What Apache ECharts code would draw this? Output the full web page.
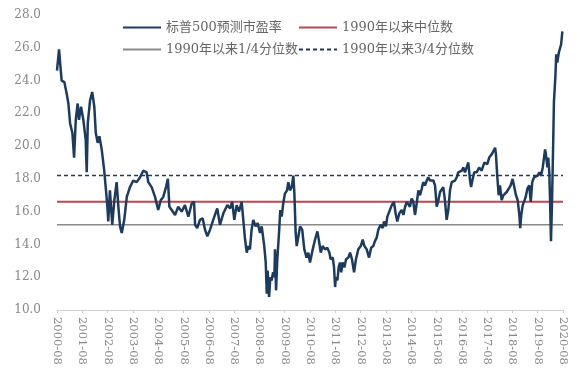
<!DOCTYPE html>
<html>
<head>
<meta charset="utf-8">
<script src="https://cdn.jsdelivr.net/npm/echarts@6/dist/echarts.min.js"></script>
<style>html,body{margin:0;padding:0;background:#fff;}#c{width:580px;height:378px;}</style>
</head>
<body>
<div id="c"></div>
<script>
// months since 2000-08
const months = [0,0.95,2.2,3.5,4.6,5.4,6.2,7.3,8.1,8.9,9.8,10.4,11.4,12.5,13.6,14.1,14.6,15.7,16.7,17.7,18.4,19.3,20.1,21.2,22.4,23.1,23.9,24.3,25.1,26.2,27.2,28.3,29.1,29.9,30.7,31.9,33.1,34.6,36.2,37.8,39.4,40.9,42.5,43.3,44.9,46.5,48.0,49.2,50.4,51.7,52.6,53.3,54.4,56.0,57.5,59.1,60.7,62.3,63.9,65.0,65.5,66.5,67.8,69.1,70.2,71.3,72.6,74.1,76.0,77.3,78.9,80.8,82.1,83.1,84.1,85.2,86.3,87.6,88.4,89.2,90.0,90.7,91.5,92.3,93.1,94.2,95.2,96.3,97.1,98.3,99.0,99.5,99.9,100.6,101.2,101.8,102.5,103.1,103.4,103.9,104.5,105.3,105.9,106.6,107.3,108.1,109.1,109.7,110.5,111.3,112.1,112.6,113.2,113.7,114.5,115.3,116.3,117.3,118.4,119.2,120.0,121.3,122.4,123.5,124.4,125.1,126.0,127.1,128.2,129.2,129.8,130.8,131.4,131.9,132.3,133.0,133.6,134.2,134.8,135.5,136.3,137.1,138.2,139.0,139.9,140.9,141.8,142.9,144.1,145.0,145.8,146.9,148.0,149.0,150.0,150.8,151.6,152.4,153.5,154.5,155.1,156.0,156.7,157.6,158.8,159.8,160.6,161.4,162.4,162.7,163.5,164.3,165.1,165.9,166.6,167.4,168.2,169.0,169.8,170.6,171.4,172.2,173.0,173.7,174.5,175.4,176.1,176.9,177.7,178.5,179.3,180.1,180.9,181.7,182.5,183.2,184.0,184.8,185.6,186.4,187.2,188.0,188.8,189.6,190.3,191.2,192.0,192.7,193.5,194.3,195.1,195.9,196.4,197.0,197.9,199.1,200.2,201.4,202.7,203.0,204.1,205.0,206.2,206.9,207.8,208.2,208.8,209.5,210.1,210.9,211.7,212.5,213.3,214.1,215.2,216.1,216.9,217.7,218.5,219.3,219.7,220.2,220.9,221.5,222.3,223.1,224.0,224.7,225.4,226.3,227.2,228.0,228.8,229.6,230.4,231.0,231.5,231.9,232.6,233.0,233.5,233.8,234.3,234.8,235.3,235.7,236.4,236.8,237.3,238.0,238.6,239.1,239.7];
const pe = [24.6,25.9,24.0,23.9,23.2,22.6,21.4,20.8,19.3,21.6,22.6,21.6,22.4,21.6,20.4,18.4,21.4,22.8,23.3,22.4,20.8,20.2,20.6,19.8,18.5,17.5,16.3,15.4,17.3,15.2,16.7,17.8,16.3,15.1,14.7,15.5,16.9,17.5,17.9,17.8,18.1,18.5,18.4,17.8,17.5,16.9,16.1,16.7,16.9,17.5,18.0,16.3,16.1,15.8,16.3,16.0,16.4,15.7,16.5,16.6,15.2,15.0,15.5,15.6,14.9,14.5,14.9,15.5,16.2,15.2,15.9,16.4,16.2,16.6,15.5,16.4,16.0,16.6,16.5,14.3,13.5,13.9,13.7,14.9,15.5,15.1,15.3,14.7,15.1,13.9,12.9,11.0,12.4,10.8,12.0,11.8,12.3,12.0,13.7,11.2,13.1,14.7,16.1,15.7,16.5,17.1,17.3,17.8,17.3,17.5,18.2,17.1,14.7,13.9,14.5,15.1,14.9,13.7,13.2,13.5,12.9,13.7,14.3,14.8,14.1,13.5,13.9,13.7,13.8,13.5,13.1,13.2,12.6,11.4,12.0,11.8,12.6,12.9,12.3,12.9,12.6,13.1,13.2,13.5,13.1,12.3,13.1,13.7,13.9,14.3,13.9,13.7,13.2,13.8,13.9,14.2,14.4,14.9,15.2,15.0,15.4,15.1,15.7,16.0,16.4,16.6,15.9,15.4,15.9,15.9,16.1,15.8,16.3,16.6,16.7,16.3,16.8,16.6,15.8,16.5,17.3,17.0,17.4,17.8,17.6,17.9,18.1,17.9,17.8,17.9,17.6,16.3,16.7,17.2,17.3,17.5,16.7,15.5,16.1,17.3,17.8,17.8,17.9,18.1,18.4,18.5,18.5,18.7,18.4,18.5,19.0,17.9,17.5,17.9,18.4,18.4,18.7,18.5,19.0,19.0,18.9,19.3,19.5,19.6,19.9,19.5,18.2,17.0,17.6,16.7,17.0,16.9,17.2,17.3,17.6,18.0,18.1,17.0,16.7,15.8,15.0,15.8,16.4,16.6,16.9,17.4,17.6,16.6,17.8,18.1,18.0,18.2,18.4,18.2,18.7,19.3,19.8,19.5,18.7,19.3,18.4,17.0,14.2,16.6,19.9,22.7,24.3,25.6,25.1,25.7,25.7,26.2,27.0];
const medianPE = 16.6;
const q1PE = 15.2;
const q3PE = 18.2;
const seriesNames = ['标普500预测市盈率','1990年以来中位数','1990年以来1/4分位数','1990年以来3/4分位数'];
const startYear = 2000;
const xMin = 0, xMax = 240;

const FONT = '"DejaVu Serif", "Liberation Serif", "Noto Sans CJK SC", serif';
const mainData = months.map((m, i) => [m, pe[i]]);
const flat = v => [[xMin, v], [xMax, v]];

const legendCommon = {
  orient: 'vertical', top: 16, itemGap: 9,
  itemWidth: 38, itemHeight: 10,
  itemStyle: {opacity: 0},
  textStyle: {fontFamily: FONT, fontSize: 13, color: '#666'}
};

const chart = echarts.init(document.getElementById('c'), null, {renderer: 'canvas'});
chart.setOption({
  animation: false,
  backgroundColor: '#ffffff',
  grid: {left: 57, right: 17, top: 15, bottom: 68},
  legend: [
    Object.assign({data: [seriesNames[0], seriesNames[2]], left: 117}, legendCommon),
    Object.assign({data: [seriesNames[1], seriesNames[3]], left: 293}, legendCommon)
  ],
  xAxis: {
    type: 'value', min: xMin, max: xMax, interval: 12,
    splitLine: {show: false},
    axisLine: {show: true, lineStyle: {color: '#d0d0d0', width: 1}},
    axisTick: {show: true, length: 3, lineStyle: {color: '#d0d0d0'}},
    axisLabel: {
      rotate: -90, margin: 7, fontFamily: FONT, fontSize: 11.5, color: '#888',
      formatter: v => (startYear + Math.round(v / 12)) + '-08'
    }
  },
  yAxis: {
    type: 'value', min: 10, max: 28, interval: 2,
    splitLine: {show: false},
    axisLine: {show: false},
    axisTick: {show: false},
    axisLabel: {margin: 16, fontFamily: FONT, fontSize: 12, color: '#888',
      formatter: v => v.toFixed(1)}
  },
  series: [
    {name: seriesNames[2], type: 'line', data: flat(q1PE), symbol: 'none',
      lineStyle: {color: '#8a8a8a', width: 1.5}, itemStyle: {color: '#8a8a8a'}, z: 1},
    {name: seriesNames[1], type: 'line', data: flat(medianPE), symbol: 'none',
      lineStyle: {color: '#c0464e', width: 2}, itemStyle: {color: '#c0464e'}, z: 1},
    {name: seriesNames[3], type: 'line', data: flat(q3PE), symbol: 'none',
      lineStyle: {color: '#1c3b5e', width: 1.5, type: [4, 3]}, itemStyle: {color: '#1c3b5e'}, z: 1},
    {name: seriesNames[0], type: 'line', data: mainData, symbol: 'none',
      lineStyle: {color: '#1c3b5e', width: 2.5}, itemStyle: {color: '#1c3b5e'}, z: 3}
  ]
});
</script>
</body>
</html>
